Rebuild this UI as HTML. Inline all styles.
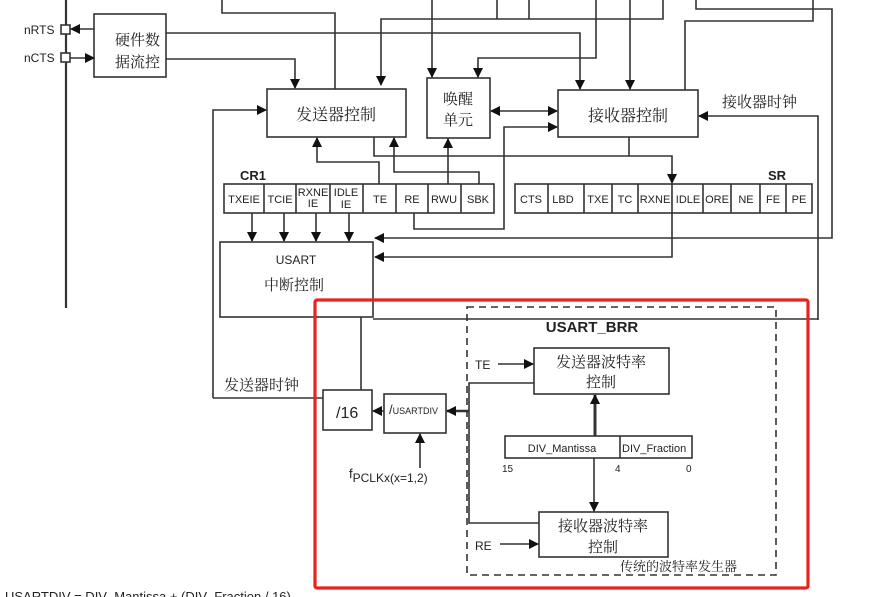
<!DOCTYPE html>
<html><head><meta charset="utf-8"><style>
html,body{margin:0;padding:0;background:#fff;}
svg{display:block;}
text{font-family:"Liberation Sans","Noto Sans CJK SC",sans-serif;fill:#222;}
.cn{font-family:"Noto Serif CJK SC","Noto Sans CJK SC",serif;}
</style></head><body>
<svg width="896" height="597" viewBox="0 0 896 597" xmlns="http://www.w3.org/2000/svg">
<defs>
<marker id="a" markerWidth="10" markerHeight="10" refX="9" refY="5" orient="auto" markerUnits="userSpaceOnUse"><path d="M0,0 L10,5 L0,10 z" fill="#111"/></marker>
<marker id="b" markerWidth="10" markerHeight="10" refX="1" refY="5" orient="auto" markerUnits="userSpaceOnUse"><path d="M10,0 L0,5 L10,10 z" fill="#111"/></marker>
</defs>
<g stroke="#333" stroke-width="1.6" fill="none">
<!-- bus -->
<line x1="66" y1="0" x2="66" y2="308" stroke-width="2.2"/>
<rect x="61" y="25" width="9" height="9" fill="#fff"/>
<rect x="61" y="53" width="9" height="9" fill="#fff"/>
<rect x="94" y="14" width="72" height="63" />
<line x1="94" y1="29" x2="71" y2="29" marker-end="url(#a)"/>
<line x1="70" y1="58" x2="94" y2="58" marker-end="url(#a)"/>
<polyline points="166,33 580,33 580,89" marker-end="url(#a)"/>
<polyline points="166,59 295,59 295,88" marker-end="url(#a)"/>
<!-- top boxes -->
<rect x="267" y="89" width="139" height="48"/>
<rect x="427" y="78" width="63" height="60"/>
<rect x="558" y="90" width="140" height="47"/>
<polyline points="335,89 335,13 222,13 222,0"/>
<polyline points="381,85 381,19 663,19 663,0" marker-start="url(#b)"/>
<line x1="497" y1="0" x2="497" y2="19"/>
<line x1="529" y1="0" x2="529" y2="19"/>
<line x1="432" y1="0" x2="432" y2="77" marker-end="url(#a)"/>
<polyline points="596,0 596,58 478,58 478,77" marker-end="url(#a)"/>
<line x1="630" y1="0" x2="630" y2="89" marker-end="url(#a)"/>
<polyline points="696,0 696,9 832,9 832,238 375,238" marker-end="url(#a)"/>
<polyline points="685,90 685,21 813,21 813,0"/>
<polyline points="818,320 818,116 699,116" marker-end="url(#a)"/>
<line x1="491" y1="111" x2="557" y2="111" marker-start="url(#b)" marker-end="url(#a)"/>
<polyline points="414,213 414,229 504,229 504,127 557,127" marker-end="url(#a)"/>
<polyline points="379,184 379,162 317,162 317,138" marker-end="url(#a)"/>
<polyline points="479,184 479,172 394,172 394,138" marker-end="url(#a)"/>
<line x1="448" y1="184" x2="448" y2="139" marker-end="url(#a)"/>
<polyline points="374,137 374,156 672,156 672,183" marker-end="url(#a)"/>
<line x1="629" y1="137" x2="629" y2="156"/>
<polyline points="672,213 672,257 375,257" marker-end="url(#a)"/>
<polyline points="213,398 213,110 266,110" marker-end="url(#a)"/>
<!-- CR1 -->
<rect x="224" y="184" width="270" height="29"/>
<path d="M264 184v29M296 184v29M330 184v29M363 184v29M396 184v29M428 184v29M461 184v29"/>
<!-- SR -->
<rect x="515" y="184" width="297" height="29"/>
<path d="M548 184v29M584 184v29M612 184v29M638 184v29M672 184v29M703 184v29M731 184v29M760 184v29M786 184v29"/>
<line x1="252" y1="213" x2="252" y2="241" marker-end="url(#a)"/>
<line x1="284" y1="213" x2="284" y2="241" marker-end="url(#a)"/>
<line x1="316" y1="213" x2="316" y2="241" marker-end="url(#a)"/>
<line x1="349" y1="213" x2="349" y2="241" marker-end="url(#a)"/>
<rect x="220" y="242" width="153" height="75"/>
<line x1="373" y1="319" x2="818" y2="319"/>
<line x1="361" y1="317" x2="361" y2="390"/>
<line x1="213" y1="398" x2="323" y2="398"/>
<!-- baud -->
<rect x="323" y="390" width="49" height="40"/>
<rect x="384" y="394" width="62" height="39"/>
<line x1="384" y1="411" x2="373" y2="411" marker-end="url(#a)"/>
<line x1="469" y1="411" x2="447" y2="411" stroke-width="2.4" marker-end="url(#a)"/>
<line x1="420" y1="468" x2="420" y2="434" marker-end="url(#a)"/>
<rect x="467" y="307" width="309" height="268" stroke-dasharray="7,5"/>
<rect x="534" y="348" width="135" height="46"/>
<rect x="539" y="512" width="129" height="45"/>
<polyline points="534,383 469,383 469,523 539,523"/>
<line x1="498" y1="364" x2="533" y2="364" marker-end="url(#a)"/>
<line x1="500" y1="544" x2="538" y2="544" marker-end="url(#a)"/>
<rect x="505" y="436" width="187" height="22"/>
<line x1="620" y1="436" x2="620" y2="458"/>
<line x1="595" y1="436" x2="595" y2="395" stroke-width="3" marker-end="url(#a)"/>
<line x1="594" y1="458" x2="594" y2="511" marker-end="url(#a)"/>
<rect x="315" y="300" width="493" height="288" stroke="#e8231d" stroke-width="3.2" rx="2"/>
</g>
<g font-size="12">
<text x="24" y="34">nRTS</text>
<text x="24" y="62">nCTS</text>
<text x="240" y="180" font-weight="bold" font-size="13">CR1</text>
<text x="768" y="180" font-weight="bold" font-size="13">SR</text>
<g font-size="11" text-anchor="middle">
<text x="244" y="203">TXEIE</text><text x="280" y="203">TCIE</text>
<text x="313" y="196">RXNE</text><text x="313" y="207">IE</text>
<text x="346" y="196">IDLE</text><text x="346" y="208">IE</text>
<text x="380" y="203">TE</text><text x="412" y="203">RE</text><text x="444" y="203">RWU</text><text x="478" y="203">SBK</text>
<text x="531" y="203">CTS</text><text x="563" y="203">LBD</text><text x="598" y="203">TXE</text><text x="625" y="203">TC</text><text x="655" y="203">RXNE</text><text x="688" y="203">IDLE</text><text x="717" y="203">ORE</text><text x="746" y="203">NE</text><text x="773" y="203">FE</text><text x="799" y="203">PE</text>
</g>
<text x="296" y="264" text-anchor="middle" font-size="12">USART</text>
<text x="160" y="45" class="cn" font-size="15" text-anchor="end" transform="translate(0,0)">硬件数</text>
<text x="160" y="67" class="cn" font-size="15" text-anchor="end">据流控</text>
<text x="336" y="120" class="cn" font-size="16" text-anchor="middle">发送器控制</text>
<text x="458" y="104" class="cn" font-size="15" text-anchor="middle">唤醒</text>
<text x="458" y="125" class="cn" font-size="15" text-anchor="middle">单元</text>
<text x="628" y="121" class="cn" font-size="16" text-anchor="middle">接收器控制</text>
<text x="722" y="107" class="cn" font-size="15">接收器时钟</text>
<text x="294" y="290" class="cn" font-size="15" text-anchor="middle">中断控制</text>
<text x="224" y="390" class="cn" font-size="15">发送器时钟</text>
<text x="336" y="418" font-size="16">/16</text>
<text x="389" y="414" font-size="13">/<tspan font-size="9">USARTDIV</tspan></text>
<text x="349" y="478" font-size="13">f<tspan font-size="12" dy="4">PCLKx(x=1,2)</tspan></text>
<text x="592" y="332" font-weight="bold" font-size="15" text-anchor="middle">USART_BRR</text>
<text x="475" y="369" font-size="12">TE</text>
<text x="475" y="550" font-size="12">RE</text>
<text x="601" y="367" class="cn" font-size="15" text-anchor="middle">发送器波特率</text>
<text x="601" y="387" class="cn" font-size="15" text-anchor="middle">控制</text>
<text x="603" y="531" class="cn" font-size="15" text-anchor="middle">接收器波特率</text>
<text x="603" y="552" class="cn" font-size="15" text-anchor="middle">控制</text>
<text x="562" y="452" font-size="11" text-anchor="middle">DIV_Mantissa</text>
<text x="622" y="452" font-size="11">DIV_Fraction</text>
<text x="502" y="472" font-size="10">15</text>
<text x="615" y="472" font-size="10">4</text>
<text x="686" y="472" font-size="10">0</text>
<text x="620" y="571" class="cn" font-size="13">传统的波特率发生器</text>
<text x="5" y="601" font-size="13">USARTDIV = DIV_Mantissa + (DIV_Fraction / 16)</text>
</g>
</svg>
</body></html>
